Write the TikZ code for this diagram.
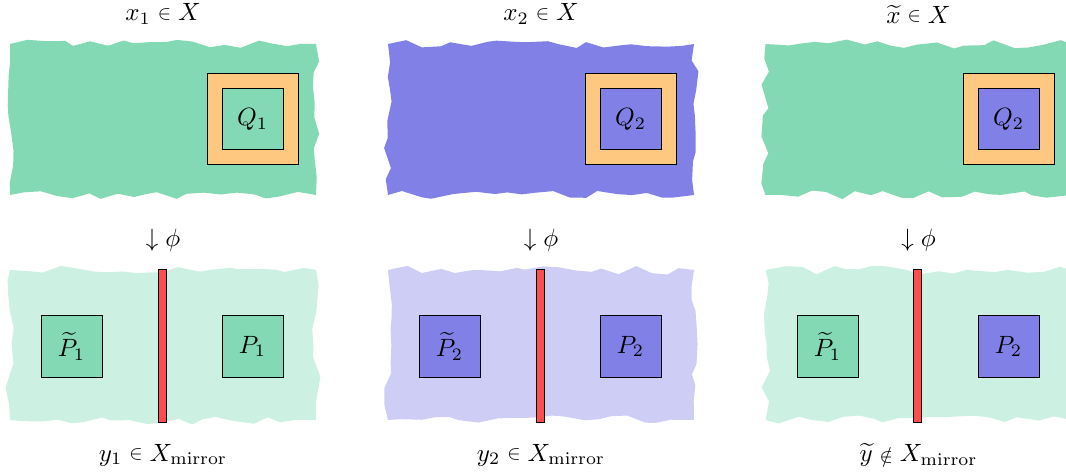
\documentclass[tikz,border=0pt]{standalone}
\usetikzlibrary{decorations.pathmorphing}
\usepackage{graphicx}
\definecolor{cgreen}{RGB}{130,217,180}
\definecolor{cblue}{RGB}{128,128,230}
\definecolor{corange}{RGB}{255,200,128}
\definecolor{clgreen}{RGB}{204,240,225}
\definecolor{clblue}{RGB}{205,205,245}
\definecolor{cred}{RGB}{255,77,77}
\newcommand{\smallinrel}{\mathrel{\vcenter{\hbox{\scalebox{0.8}{$\in$}}}}}
\newcommand{\smallnotinrel}{\mathrel{\vcenter{\hbox{\scalebox{0.8}{$\notin$}}}}}
\begin{document}
\begin{tikzpicture}[x=0.4pt,y=-0.4pt,
  rough/.style={decorate, decoration={random steps, segment length=6pt, amplitude=1.8pt}},
  outersq/.style={draw=black, line width=0.4pt, fill=corange, minimum size=36.4pt, inner sep=0pt},
  innersq/.style={draw=black, line width=0.4pt, minimum size=24.4pt, inner sep=0pt},
  redbar/.style={draw=black, line width=0.4pt, fill=cred},
  lbl/.style={inner sep=0pt}]
\useasboundingbox (0,0) rectangle (1066,472);
\clip (0,0) rectangle (1066,472);
% ---------- panel 1 ----------
\begin{scope}
  \pgfmathsetseed{11}
  \fill[cgreen, rough] (10,44) rectangle (316,195);
  \node[lbl] (t1) at (163,14) {$x_1 \smallinrel X$};
  \node[outersq] (o1) at (252.5,119.5) {};
  \node[innersq, fill=cgreen] (q1) at (252.5,119.5) {$Q_1$};
  \node[lbl] (phi1) at (163,240) {$\downarrow\phi$};
  \pgfmathsetseed{23}
  \fill[clgreen, rough] (10,270) rectangle (316,420);
  \draw[redbar] (158,270) rectangle (166,422);
  \node[innersq, fill=cgreen] (pt1) at (71.5,346.5) {$\widetilde{P}_1$};
  \node[innersq, fill=cgreen] (p1) at (252.5,346.5) {$P_1$};
  \node[lbl] (b1) at (163,455) {$y_1 \smallinrel X_{\mathrm{mirror}}$};
\end{scope}
% ---------- panel 2 ----------
\begin{scope}[shift={(378,0)}]
  \pgfmathsetseed{37}
  \fill[cblue, rough] (10,44) rectangle (316,195);
  \node[lbl] (t2) at (163,14) {$x_2 \smallinrel X$};
  \node[outersq] (o2) at (252.5,119.5) {};
  \node[innersq, fill=cblue] (q2) at (252.5,119.5) {$Q_2$};
  \node[lbl] (phi2) at (163,240) {$\downarrow\phi$};
  \pgfmathsetseed{41}
  \fill[clblue, rough] (10,270) rectangle (316,420);
  \draw[redbar] (158,270) rectangle (166,422);
  \node[innersq, fill=cblue] (pt2) at (71.5,346.5) {$\widetilde{P}_2$};
  \node[innersq, fill=cblue] (p2) at (252.5,346.5) {$P_2$};
  \node[lbl] (b2) at (163,455) {$y_2 \smallinrel X_{\mathrm{mirror}}$};
\end{scope}
% ---------- panel 3 ----------
\begin{scope}[shift={(755.5,0)}]
  \pgfmathsetseed{53}
  \fill[cgreen, rough] (10,44) rectangle (316,195);
  \node[lbl] (t3) at (163,14) {$\widetilde{x} \smallinrel X$};
  \node[outersq] (o3) at (253,119.5) {};
  \node[innersq, fill=cblue] (q3) at (253,119.5) {$Q_2$};
  \node[lbl] (phi3) at (163,240) {$\downarrow\phi$};
  \pgfmathsetseed{67}
  \fill[clgreen, rough] (10,270) rectangle (316,420);
  \draw[redbar] (158,270) rectangle (166,422);
  \node[innersq, fill=cgreen] (pt3) at (72,346.5) {$\widetilde{P}_1$};
  \node[innersq, fill=cblue] (p3) at (253,346.5) {$P_2$};
  \node[lbl] (b3) at (163,455) {$\widetilde{y} \smallnotinrel X_{\mathrm{mirror}}$};
\end{scope}
\end{tikzpicture}
\end{document}
